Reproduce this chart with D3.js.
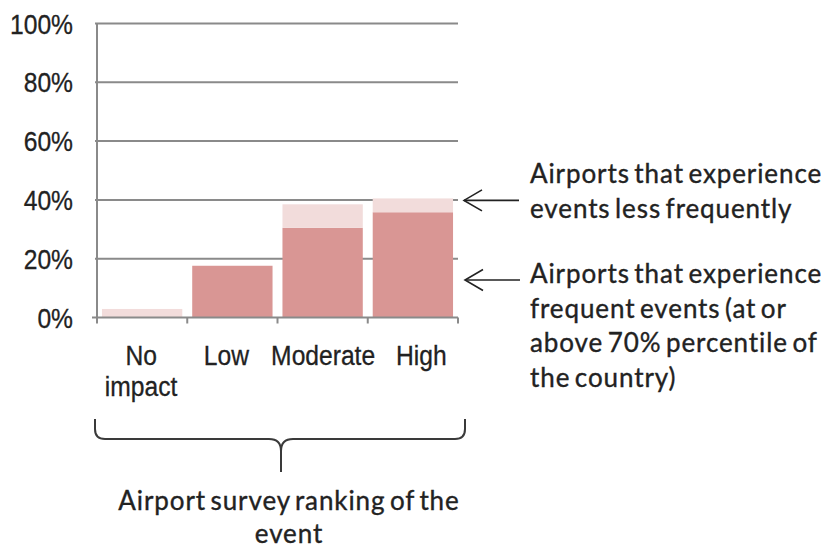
<!DOCTYPE html>
<html>
<head>
<meta charset="utf-8">
<script src="https://cdn.jsdelivr.net/npm/d3@7"></script>
<style>
  html, body { margin: 0; padding: 0; background: #fff; }
  svg { display: block; }
</style>
</head>
<body>
<svg id="chart" width="830" height="548"></svg>
<script>
// Share of airports by survey ranking, split by event frequency
const categories = ["No impact", "Low", "Moderate", "High"];
const categoryLines = [["No", "impact"], ["Low"], ["Moderate"], ["High"]];
const frequent = [0, 17.6, 30.5, 35.8];      // at or above 70th percentile
const lessFrequent = [2.9, 0, 8.0, 4.7];     // below that
const yTicks = [0, 20, 40, 60, 80, 100];
const noteLessFrequent = ["Airports that experience", "events less frequently"];
const noteFrequent = ["Airports that experience", "frequent events (at or", "above 70% percentile of", "the country)"];
const axisTitle = ["Airport survey ranking of the", "event"];

const svg = d3.select("#chart");

const plot = { left: 97, right: 458, top: 23.5, bottom: 317.5 };
// small horizontal nudges for the category labels
const labelShift = [-1, -6, 0.5, 8.5];

const x = d3.scaleBand()
  .domain(categories)
  .range([plot.left, plot.right])
  .paddingInner(0.11)
  .paddingOuter(0.055);

const y = d3.scaleLinear()
  .domain([0, 100])
  .range([plot.bottom, plot.top]);

const rows = categories.map((c, i) => ({ cat: c, frequent: frequent[i], less: lessFrequent[i] }));
const stacked = d3.stack().keys(["frequent", "less"])(rows);
const colors = { frequent: "#d99694", less: "#f2dcdb" };

const gridColor = "#8a8a8a";
const textColor = "#222222";
const axisFont = "Liberation Sans, Arial, sans-serif";
const noteFont = "Lato, 'Open Sans', sans-serif";

// horizontal gridlines
svg.append("g")
  .selectAll("line")
  .data(yTicks.filter(t => t > 0))
  .join("line")
  .attr("x1", plot.left - 2)
  .attr("x2", plot.right)
  .attr("y1", d => y(d))
  .attr("y2", d => y(d))
  .attr("stroke", gridColor)
  .attr("stroke-width", 2);

// stacked bars
svg.append("g")
  .selectAll("g")
  .data(stacked)
  .join("g")
  .attr("fill", d => colors[d.key])
  .selectAll("rect")
  .data(d => d)
  .join("rect")
  .attr("x", d => x(d.data.cat))
  .attr("width", x.bandwidth())
  .attr("y", d => y(d[1]))
  .attr("height", d => y(d[0]) - y(d[1]));

// y axis line and labels
svg.append("line")
  .attr("x1", plot.left).attr("x2", plot.left)
  .attr("y1", plot.top).attr("y2", plot.bottom)
  .attr("stroke", gridColor).attr("stroke-width", 2);

svg.append("g")
  .selectAll("g")
  .data(yTicks)
  .join("g")
  .attr("transform", d => `translate(73,${y(d)}) scale(0.88,1)`)
  .append("text")
  .attr("dy", "0.36em")
  .attr("text-anchor", "end")
  .attr("font-family", axisFont)
  .attr("font-size", 28)
  .attr("fill", textColor)
  .attr("stroke", textColor)
  .attr("stroke-width", 0.3)
  .text(d => d + "%");

// x axis with ticks at category boundaries
svg.append("line")
  .attr("x1", plot.left - 5).attr("x2", plot.right)
  .attr("y1", plot.bottom).attr("y2", plot.bottom)
  .attr("stroke", gridColor).attr("stroke-width", 2);

const step = x.step();
const boundaries = d3.range(categories.length + 1).map(i => plot.left + i * step);
svg.append("g")
  .selectAll("line")
  .data(boundaries)
  .join("line")
  .attr("x1", d => d).attr("x2", d => d)
  .attr("y1", plot.bottom).attr("y2", plot.bottom + 6)
  .attr("stroke", gridColor).attr("stroke-width", 2);

// category labels
categories.forEach((c, i) => {
  const cxLabel = x(c) + x.bandwidth() / 2 + labelShift[i];
  categoryLines[i].forEach((line, j) => {
    svg.append("g")
      .attr("transform", `translate(${cxLabel},${365 + j * 31}) scale(0.88,1)`)
      .append("text")
      .attr("text-anchor", "middle")
      .attr("font-family", axisFont)
      .attr("font-size", 28)
      .attr("fill", textColor)
      .attr("stroke", textColor)
      .attr("stroke-width", 0.3)
      .text(line);
  });
});

function noteBlock(lines, x0, y0, lineGap, anchor) {
  const t = svg.append("text")
    .attr("font-family", noteFont)
    .attr("font-size", 26)
    .attr("letter-spacing", 0.9)
    .attr("word-spacing", -3)
    .attr("fill", textColor)
    .attr("stroke", textColor)
    .attr("stroke-width", 0.35)
    .attr("text-anchor", anchor || "start")
    .attr("x", x0)
    .attr("y", y0);
  lines.forEach((line, j) => {
    t.append("tspan").attr("x", x0).attr("dy", j === 0 ? 0 : lineGap).text(line);
  });
  return t;
}

noteBlock(noteLessFrequent, 530, 183, 34.5);
noteBlock(noteFrequent, 530, 283, 34.6);

// arrows pointing back to the bars
function arrow(yPos, x0, x1) {
  const g = svg.append("g")
    .attr("stroke", "#222")
    .attr("stroke-width", 1.6)
    .attr("fill", "none");
  g.append("line").attr("x1", x0).attr("x2", x1).attr("y1", yPos).attr("y2", yPos);
  g.append("path").attr("d", `M${x0 + 18},${yPos - 10.5} L${x0},${yPos} L${x0 + 18},${yPos + 10.5}`);
}
arrow(y(40) + 0.5, 464, 519);
arrow(280, 465, 520);

// brace under the categories
const bl = 95, br = 465, bTop = 419, bMid = 439, bTip = 472;
const cx = (bl + br) / 2 + 1;
const r = 10;
const bracePath = [
  `M${bl},${bTop}`,
  `L${bl},${bMid - r}`,
  `Q${bl},${bMid} ${bl + r},${bMid}`,
  `L${cx - 12},${bMid}`,
  `Q${cx},${bMid} ${cx},${bMid + 12}`,
  `L${cx},${bTip}`,
  `M${cx},${bMid + 12}`,
  `Q${cx},${bMid} ${cx + 12},${bMid}`,
  `L${br - r},${bMid}`,
  `Q${br},${bMid} ${br},${bMid - r}`,
  `L${br},${bTop}`
].join(" ");
svg.append("path")
  .attr("d", bracePath)
  .attr("fill", "none")
  .attr("stroke", "#3a3a3a")
  .attr("stroke-width", 2);

// title under the brace
noteBlock(axisTitle, 289, 510, 33, "middle");
</script>
</body>
</html>
